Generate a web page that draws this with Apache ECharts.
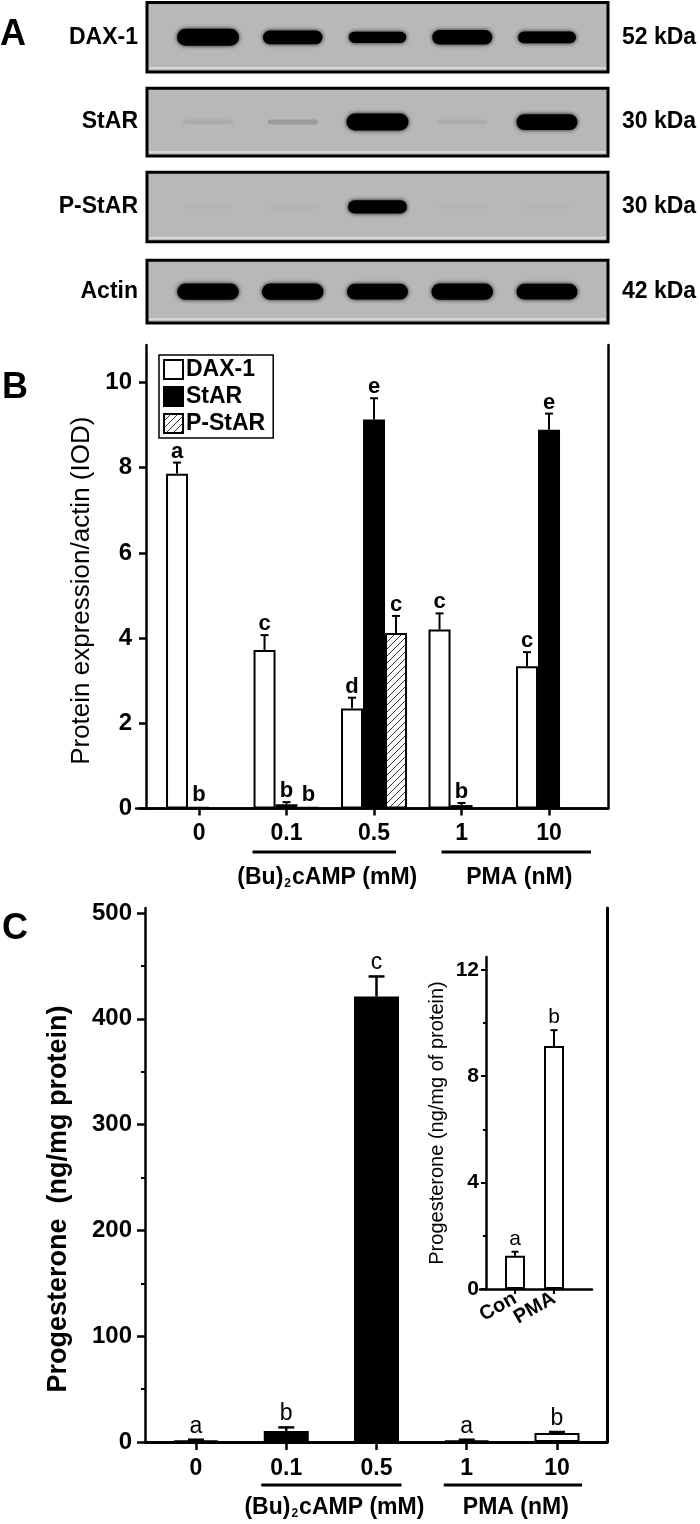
<!DOCTYPE html>
<html><head><meta charset="utf-8">
<script src="https://cdn.jsdelivr.net/npm/echarts@6/dist/echarts.min.js"></script>
<style>html,body{margin:0;padding:0;background:#fff}#chart{width:700px;height:1524px}</style>
</head><body><div id="chart"></div>
<script>
// ================= DATA =================
// Panel A: western blots (band intensity per lane, 0..1)
const blotRows = ['DAX-1', 'StAR', 'P-StAR', 'Actin'];
const blotSizes = ['52 kDa', '30 kDa', '30 kDa', '42 kDa'];
const daxBands = [1.0, 0.75, 0.55, 0.8, 0.6];
const starBands = [0.07, 0.14, 1.0, 0.06, 0.9];
const pstarBands = [0.01, 0.02, 0.7, 0.01, 0.01];
const actinBands = [0.95, 0.95, 0.9, 0.95, 0.9];

// shared dose categories
const doseLabels = ['0', '0.1', '0.5', '1', '10'];
const groupLabels = ['(Bu){s|2}cAMP (mM)', 'PMA (nM)'];
const groupMembers = [[2, 3], [4, 5]];

// Panel B: protein expression / actin (IOD)
const daxValues = [7.86, 3.72, 2.35, 4.2, 3.34];
const daxErrors = [0.26, 0.35, 0.25, 0.38, 0.33];
const daxLetters = ['a', 'c', 'd', 'c', 'c'];
const starValues = [0.03, 0.1, 9.13, 0.08, 8.89];
const starErrors = [0, 0.05, 0.5, 0.05, 0.38];
const starLetters = ['b', 'b', 'e', 'b', 'e'];
const pstarValues = [null, 0.04, 4.12, null, null];
const pstarErrors = [null, 0, 0.4, null, null];
const pstarLetters = [null, 'b', 'c', null, null];
const bTicks = [0, 2, 4, 6, 8, 10];

// Panel C: progesterone (ng/mg protein)
const progValues = [1.2, 10.5, 421, 1.2, 8.5];
const progErrors = [0.4, 3.3, 19, 0.4, 0.7];
const progLetters = ['a', 'b', 'c', 'a', 'b'];
const progTreatment = ['control', 'cAMP', 'cAMP', 'PMA', 'PMA'];
const cTicks = [0, 100, 200, 300, 400, 500];
const cMinorTicks = [50, 150, 250, 350, 450];

// Inset
const insetCats = ['Con', 'PMA'];
const insetValues = [1.25, 9.13];
const insetErrors = [0.15, 0.6];
const insetLetters = ['a', 'b'];
const insetTicks = [0, 4, 8, 12];
const insetMinorTicks = [2, 6, 10];

// ================= STYLE =================
const FONT = '"Liberation Sans", Arial, Helvetica, sans-serif';
const fnt = (w, s) => w + ' ' + s + 'px ' + FONT;
const BLACK = '#000';
const fillByTreatment = { control: '#fff', cAMP: '#000', PMA: '#fff' };

function hatchCanvas() {
  const c = document.createElement('canvas');
  c.width = 7; c.height = 7;
  const g = c.getContext('2d');
  g.fillStyle = '#fff'; g.fillRect(0, 0, 7, 7);
  g.strokeStyle = '#333'; g.lineWidth = 1;
  g.beginPath();
  g.moveTo(-1, 8); g.lineTo(8, -1);
  g.moveTo(-1, 1); g.lineTo(1, -1);
  g.moveTo(6, 8); g.lineTo(8, 6);
  g.stroke();
  return c;
}
const hatch = { image: hatchCanvas(), repeat: 'repeat' };

const lineOn = (w) => ({ show: true, lineStyle: { color: BLACK, width: w } });
const off = { show: false };

function idxData(arr) {
  const out = [];
  arr.forEach((v, i) => { if (v != null) out.push([i + 1, v]); });
  return out;
}

function errSeries(xi, yi, vals, errs, letters, o) {
  const data = [];
  vals.forEach((v, i) => { if (v != null) data.push([i + 1, v, errs[i] || 0, i]); });
  return {
    type: 'custom', xAxisIndex: xi, yAxisIndex: yi, z: 6, clip: false, silent: true,
    data: data, encode: { x: 0, y: 1 },
    renderItem: function (params, api) {
      const x = api.value(0), v = api.value(1), e = api.value(2), idx = api.value(3);
      const base = api.coord([x, v]);
      const top = api.coord([x, v + e]);
      const cx = base[0] + o.offset;
      const yb = base[1] - o.border / 2;
      let yt = yb;
      const ch = [];
      if (e > 0) {
        yt = Math.min(top[1], yb);
        ch.push({ type: 'line', shape: { x1: cx, y1: base[1], x2: cx, y2: yt }, style: { stroke: BLACK, lineWidth: o.lw } });
        ch.push({ type: 'line', shape: { x1: cx - o.cap, y1: yt, x2: cx + o.cap, y2: yt }, style: { stroke: BLACK, lineWidth: o.lw } });
      }
      ch.push({ type: 'text', x: cx, y: yt - o.gap,
        style: { text: letters[idx], font: o.font, fill: BLACK, align: 'center', verticalAlign: 'bottom', textAlign: 'center', textVerticalAlign: 'bottom' } });
      return { type: 'group', children: ch };
    }
  };
}

function bracketSeries(xi, yi, ext, lineDy, textDy, lw) {
  return {
    type: 'custom', xAxisIndex: xi, yAxisIndex: yi, z: 6, clip: false, silent: true,
    data: groupMembers.map((m, i) => [m[0], 0, i]), encode: { x: 0, y: 1 },
    renderItem: function (params, api) {
      const i = params.dataIndex;
      const m = groupMembers[i];
      const a = api.coord([m[0], 0]), b = api.coord([m[1], 0]);
      const x1 = a[0] - ext[i][0], x2 = b[0] + ext[i][1];
      return { type: 'group', children: [
        { type: 'line', shape: { x1: x1, y1: a[1] + lineDy, x2: x2, y2: a[1] + lineDy }, style: { stroke: BLACK, lineWidth: lw } },
        { type: 'text', x: (x1 + x2) / 2 + 3, y: a[1] + textDy,
          style: { text: groupLabels[i], font: fnt('bold', 23), fill: BLACK, align: 'center', verticalAlign: 'middle', textAlign: 'center', textVerticalAlign: 'middle',
            rich: { s: { font: fnt('bold', 12), fill: BLACK, verticalAlign: 'bottom', padding: [0, 1, 0, 1] } } } }
      ] };
    }
  };
}

const blotData = [daxBands, starBands, pstarBands, actinBands].map((b, r) => [r + 1].concat(b));
const boxHalf = [0.41, 0.40, 0.41, 0.37];

const blotSeries = {
  type: 'custom', xAxisIndex: 0, yAxisIndex: 0, silent: true, clip: false,
  data: blotData, encode: { x: 1, y: 0 },
  renderItem: function (params, api) {
    const row = api.value(0);
    const cs = params.coordSys;
    const c = api.coord([1, row]);
    const hh = api.size([0, boxHalf[row - 1]])[1];
    const x0 = cs.x, w = cs.width, y0 = c[1] - hh;
    const ch = [
      { type: 'rect', shape: { x: x0, y: y0, width: w, height: 2 * hh }, style: { fill: '#b8b8b8', stroke: BLACK, lineWidth: 3 } },
      { type: 'line', shape: { x1: x0 + 2, y1: y0 + 2 * hh - 4, x2: x0 + w - 2, y2: y0 + 2 * hh - 4 }, style: { stroke: '#e2e2e2', lineWidth: 1.5 } }
    ];
    for (let lane = 1; lane <= 5; lane++) {
      const it = api.value(lane);
      const p = api.coord([lane, row]);
      const faint = it < 0.3;
      const h = faint ? 5 : 4 + 13 * it;
      const bw = faint ? 50 : 52 + 10 * Math.min(1, it);
      const alpha = faint ? it : 1;
      ch.push({ type: 'rect', shape: { x: p[0] - bw / 2, y: p[1] - h / 2, width: bw, height: h, r: h / 2 },
        style: { fill: 'rgba(0,0,0,' + alpha + ')', shadowBlur: faint ? 3 : 4, shadowColor: 'rgba(0,0,0,' + (alpha * 0.9) + ')' } });
    }
    return { type: 'group', children: ch };
  }
};

const insetLabelAxis = (gi, v, line, tick) => ({
  gridIndex: gi, type: 'value', min: 0.2564, max: 2.974, position: 'bottom',
  axisLine: line ? lineOn(2.5) : off, splitLine: off,
  axisTick: tick ? { show: true, length: 5, lineStyle: { color: BLACK, width: 2 }, customValues: [1, 2] } : off,
  axisLabel: { customValues: [v], showMinLabel: true, showMaxLabel: true, formatter: x => insetCats[Math.round(x) - 1], rotate: 30, margin: 8, color: BLACK, fontSize: 20, fontWeight: 'bold', fontFamily: FONT }
});

const option = {
  animation: false,
  backgroundColor: '#fff',
  textStyle: { fontFamily: FONT },
  graphic: [
    { type: 'text', x: 0, y: 35, style: { text: 'A', font: fnt('bold', 36), fill: BLACK, textVerticalAlign: 'middle', verticalAlign: 'middle' } },
    { type: 'text', x: 2, y: 388, style: { text: 'B', font: fnt('bold', 36), fill: BLACK, textVerticalAlign: 'middle', verticalAlign: 'middle' } },
    { type: 'text', x: 2, y: 929, style: { text: 'C', font: fnt('bold', 36), fill: BLACK, textVerticalAlign: 'middle', verticalAlign: 'middle' } }
  ],
  legend: {
    data: ['DAX-1', 'StAR', 'P-StAR'],
    orient: 'vertical', left: 159, top: 355,
    itemWidth: 19, itemHeight: 19, itemGap: 4,
    padding: [3, 8, 3, 4],
    borderColor: BLACK, borderWidth: 1.5, borderRadius: 0,
    icon: 'rect', selectedMode: false,
    textStyle: { fontSize: 23, fontWeight: 'bold', color: BLACK, fontFamily: FONT, lineHeight: 21, padding: [0, 0, 0, -2] }
  },
  grid: [
    { left: 147, right: 92, top: 0, height: 329 },
    { left: 146, right: 92, top: 345, height: 463.5 },
    { left: 136, width: 10, top: 345, height: 463.5 },
    { left: 145, right: 93, top: 908, height: 534 },
    { left: 486, right: 108, top: 957, height: 332 },
    { left: 480, width: 6, top: 957, height: 332 },
    { left: 486, right: 108, top: 957, height: 332 }
  ],
  xAxis: [
    { gridIndex: 0, type: 'value', min: 0.28, max: 5.72, show: false },
    { gridIndex: 1, type: 'value', min: 0.394, max: 5.674, position: 'bottom',
      axisLine: lineOn(2.5), splitLine: off,
      axisTick: { show: true, length: 7, lineStyle: { color: BLACK, width: 2.5 }, customValues: [1, 2, 3, 4, 5] },
      axisLabel: { customValues: [1, 2, 3, 4, 5], showMinLabel: true, showMaxLabel: true, formatter: v => doseLabels[Math.round(v) - 1], margin: 14, color: BLACK, fontSize: 23, fontWeight: 'bold', fontFamily: FONT } },
    { gridIndex: 1, type: 'value', min: 0.394, max: 5.674, position: 'top', axisLine: lineOn(2.5), axisTick: off, axisLabel: off, splitLine: off },
    { gridIndex: 2, type: 'value', min: 0, max: 1, position: 'bottom', axisLine: lineOn(2.5), axisTick: off, axisLabel: off, splitLine: off },
    { gridIndex: 3, type: 'value', min: 0.435, max: 5.554, position: 'bottom',
      axisLine: lineOn(2.5), splitLine: off,
      axisTick: { show: true, length: 8, lineStyle: { color: BLACK, width: 2.5 }, customValues: [1, 2, 3, 4, 5] },
      axisLabel: { customValues: [1, 2, 3, 4, 5], showMinLabel: true, showMaxLabel: true, formatter: v => doseLabels[Math.round(v) - 1], margin: 15, color: BLACK, fontSize: 23, fontWeight: 'bold', fontFamily: FONT } },
    { gridIndex: 3, type: 'value', min: 0.435, max: 5.554, position: 'top', axisLine: lineOn(3), axisTick: off, axisLabel: off, splitLine: off },
    insetLabelAxis(4, 1, true, true),
    { gridIndex: 5, type: 'value', min: 0, max: 1, position: 'bottom', axisLine: lineOn(2.5), axisTick: off, axisLabel: off, splitLine: off },
    insetLabelAxis(6, 2, false, false)
  ],
  yAxis: [
    { gridIndex: 0, type: 'value', min: 0.56, max: 4.44, inverse: true, position: 'left',
      axisLine: off, axisTick: off, splitLine: off,
      axisLabel: { customValues: [1, 2, 3, 4], showMinLabel: true, showMaxLabel: true, formatter: v => blotRows[Math.round(v) - 1], margin: 9, color: BLACK, fontSize: 23, fontWeight: 'bold', fontFamily: FONT } },
    { gridIndex: 0, type: 'value', min: 0.56, max: 4.44, inverse: true, position: 'right',
      axisLine: off, axisTick: off, splitLine: off,
      axisLabel: { customValues: [1, 2, 3, 4], showMinLabel: true, showMaxLabel: true, formatter: v => blotSizes[Math.round(v) - 1], margin: 14, color: BLACK, fontSize: 23, fontWeight: 'bold', fontFamily: FONT } },
    { gridIndex: 1, type: 'value', min: 0, max: 10.88, position: 'left',
      axisLine: lineOn(2.5), splitLine: off,
      axisTick: { show: true, length: 7, lineStyle: { color: BLACK, width: 2.5 }, customValues: bTicks },
      axisLabel: { customValues: bTicks, showMinLabel: true, margin: 14, color: BLACK, fontSize: 24, fontWeight: 'bold', fontFamily: FONT },
      name: 'Protein expression/actin (IOD)', nameLocation: 'middle', nameGap: 50,
      nameTextStyle: { fontSize: 26, color: BLACK, fontFamily: FONT, padding: [0, 28, 0, 0] } },
    { gridIndex: 1, type: 'value', min: 0, max: 10.88, position: 'right', axisLine: lineOn(2.5), axisTick: off, axisLabel: off, splitLine: off },
    { gridIndex: 2, type: 'value', min: 0, max: 1, show: false },
    { gridIndex: 3, type: 'value', min: 0, max: 504.7, position: 'left',
      axisLine: lineOn(2.5), splitLine: off,
      axisTick: { show: true, length: 8, lineStyle: { color: BLACK, width: 2.5 }, customValues: cTicks },
      axisLabel: { customValues: cTicks, showMinLabel: true, margin: 13, color: BLACK, fontSize: 24, fontWeight: 'bold', fontFamily: FONT },
      name: 'Progesterone  (ng/mg protein)', nameLocation: 'middle', nameGap: 73,
      nameTextStyle: { fontSize: 27, fontWeight: 'bold', color: BLACK, fontFamily: FONT, padding: [0, 48, 0, 0] } },
    { gridIndex: 3, type: 'value', min: 0, max: 504.7, position: 'left',
      axisLine: off, splitLine: off, axisLabel: off,
      axisTick: { show: true, length: 4, lineStyle: { color: BLACK, width: 2 }, customValues: cMinorTicks } },
    { gridIndex: 3, type: 'value', min: 0, max: 504.7, position: 'right', axisLine: lineOn(3), axisTick: off, axisLabel: off, splitLine: off },
    { gridIndex: 4, type: 'value', min: 0, max: 12.48, position: 'left',
      axisLine: lineOn(2.5), splitLine: off,
      axisTick: { show: true, length: 5, lineStyle: { color: BLACK, width: 2 }, customValues: insetTicks },
      axisLabel: { customValues: insetTicks, showMinLabel: true, margin: 7, color: BLACK, fontSize: 21, fontWeight: 'bold', fontFamily: FONT },
      name: 'Progesterone (ng/mg of protein)', nameLocation: 'middle', nameGap: 39,
      nameTextStyle: { fontSize: 20, color: BLACK, fontFamily: FONT } },
    { gridIndex: 4, type: 'value', min: 0, max: 12.48, position: 'left',
      axisLine: off, splitLine: off, axisLabel: off,
      axisTick: { show: true, length: 3, lineStyle: { color: BLACK, width: 2 }, customValues: insetMinorTicks } },
    { gridIndex: 5, type: 'value', min: 0, max: 1, show: false },
    { gridIndex: 6, type: 'value', min: 0, max: 12.48, show: false }
  ],
  series: [
    blotSeries,
    // Panel B bars
    { type: 'bar', name: 'DAX-1', xAxisIndex: 1, yAxisIndex: 2, data: idxData(daxValues), barWidth: 22, barGap: '0%',
      itemStyle: { color: '#fff', borderColor: BLACK, borderWidth: 2 } },
    { type: 'bar', name: 'StAR', xAxisIndex: 1, yAxisIndex: 2, data: idxData(starValues), barWidth: 22, barGap: '0%',
      itemStyle: { color: '#000', borderColor: BLACK, borderWidth: 2 } },
    { type: 'bar', name: 'P-StAR', xAxisIndex: 1, yAxisIndex: 2, data: idxData(pstarValues), barWidth: 22, barGap: '0%',
      itemStyle: { color: hatch, borderColor: BLACK, borderWidth: 2 } },
    errSeries(1, 2, daxValues, daxErrors, daxLetters, { offset: -22, border: 2, lw: 2, cap: 4, gap: 0, font: fnt('bold', 22) }),
    errSeries(1, 2, starValues, starErrors, starLetters, { offset: 0, border: 2, lw: 2, cap: 4, gap: 0, font: fnt('bold', 22) }),
    errSeries(1, 2, pstarValues, pstarErrors, pstarLetters, { offset: 22, border: 2, lw: 2, cap: 4, gap: 0, font: fnt('bold', 22) }),
    bracketSeries(1, 2, [[34, 22], [20, 42]], 43.5, 69.5, 3),
    // Panel C bars
    { type: 'bar', name: 'Progesterone', xAxisIndex: 4, yAxisIndex: 5, barWidth: 45,
      data: progValues.map((v, i) => ({ value: [i + 1, v], itemStyle: { color: fillByTreatment[progTreatment[i]] } })),
      itemStyle: { borderColor: BLACK, borderWidth: 2 } },
    errSeries(4, 5, progValues, progErrors, progLetters, { offset: 0, border: 2, lw: 2.5, cap: 8, gap: 2, font: fnt('normal', 23) }),
    bracketSeries(4, 5, [[25, 25], [23, 25]], 43, 66, 3),
    // Inset
    { type: 'bar', name: 'Inset', xAxisIndex: 6, yAxisIndex: 8, barWidth: 20,
      data: insetValues.map((v, i) => [i + 1, v]),
      itemStyle: { color: '#fff', borderColor: BLACK, borderWidth: 2 } },
    errSeries(6, 8, insetValues, insetErrors, insetLetters, { offset: 0, border: 2, lw: 2, cap: 3.5, gap: 2, font: fnt('normal', 21) })
  ]
};

const chart = echarts.init(document.getElementById('chart'), null, { renderer: 'canvas', width: 700, height: 1524 });
chart.setOption(option);
</script>
</body></html>
